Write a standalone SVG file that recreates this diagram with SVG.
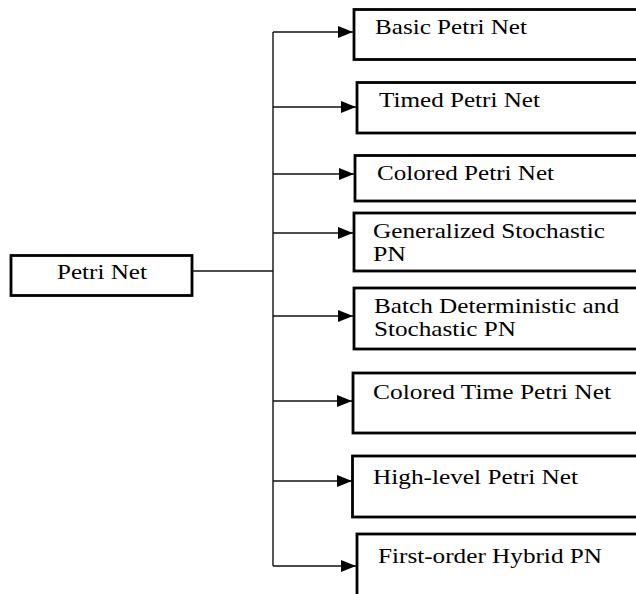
<svg xmlns="http://www.w3.org/2000/svg" width="636" height="594" viewBox="0 0 636 594">
<style>
.box{fill:#fff;stroke:#000;stroke-width:2.8}
.ln{fill:none;stroke:#111;stroke-width:1.4}
.t{font-family:"Liberation Serif","Times New Roman",serif;font-size:22px;fill:#000}
</style>
<defs>
<marker id="ah" markerUnits="userSpaceOnUse" markerWidth="16" markerHeight="13" refX="15" refY="6" orient="auto">
<path d="M0,0 L15,6 L0,12 z" fill="#000"/>
</marker>
</defs>
<rect width="636" height="594" fill="#fff"/>
<g id="connectors">
<line class="ln" x1="192" y1="271" x2="273" y2="271"/>
<line class="ln" x1="273" y1="32" x2="273" y2="566"/>
<line class="ln" x1="273" y1="32" x2="353" y2="32" marker-end="url(#ah)"/>
<line class="ln" x1="273" y1="107" x2="356" y2="107" marker-end="url(#ah)"/>
<line class="ln" x1="273" y1="174" x2="354" y2="174" marker-end="url(#ah)"/>
<line class="ln" x1="273" y1="233" x2="353" y2="233" marker-end="url(#ah)"/>
<line class="ln" x1="273" y1="316" x2="353" y2="316" marker-end="url(#ah)"/>
<line class="ln" x1="273" y1="401" x2="352" y2="401" marker-end="url(#ah)"/>
<line class="ln" x1="273" y1="481" x2="352" y2="481" marker-end="url(#ah)"/>
<line class="ln" x1="273" y1="566" x2="356" y2="566" marker-end="url(#ah)"/>
</g>
<g id="petri-net">
<rect class="box" x="11" y="255.5" width="181" height="40"/>
<text class="t" x="57" y="279" textLength="90" lengthAdjust="spacingAndGlyphs">Petri Net</text>
</g>
<g id="basic">
<rect class="box" x="354" y="9.5" width="300" height="50"/>
<text class="t" x="375" y="34" textLength="152" lengthAdjust="spacingAndGlyphs">Basic Petri Net</text>
</g>
<g id="timed">
<rect class="box" x="357" y="82.5" width="300" height="50.5"/>
<text class="t" x="379" y="107" textLength="161" lengthAdjust="spacingAndGlyphs">Timed Petri Net</text>
</g>
<g id="colored">
<rect class="box" x="355" y="155.5" width="300" height="45.5"/>
<text class="t" x="377" y="180" textLength="177" lengthAdjust="spacingAndGlyphs">Colored Petri Net</text>
</g>
<g id="gspn">
<rect class="box" x="354" y="213" width="300" height="58"/>
<text class="t" x="373" y="238" textLength="232" lengthAdjust="spacingAndGlyphs">Generalized Stochastic</text>
<text class="t" x="373" y="261" textLength="33" lengthAdjust="spacingAndGlyphs">PN</text>
</g>
<g id="bdspn">
<rect class="box" x="354" y="288" width="300" height="61"/>
<text class="t" x="374" y="313" textLength="245" lengthAdjust="spacingAndGlyphs">Batch Deterministic and</text>
<text class="t" x="374" y="336" textLength="142" lengthAdjust="spacingAndGlyphs">Stochastic PN</text>
</g>
<g id="colored-time">
<rect class="box" x="353" y="373" width="300" height="60"/>
<text class="t" x="373" y="399" textLength="238" lengthAdjust="spacingAndGlyphs">Colored Time Petri Net</text>
</g>
<g id="high-level">
<rect class="box" x="352.5" y="456" width="300" height="61"/>
<text class="t" x="373" y="484" textLength="205" lengthAdjust="spacingAndGlyphs">High-level Petri Net</text>
</g>
<g id="first-order">
<rect class="box" x="357" y="534" width="300" height="80"/>
<text class="t" x="378" y="563" textLength="224" lengthAdjust="spacingAndGlyphs">First-order Hybrid PN</text>
</g>
</svg>
